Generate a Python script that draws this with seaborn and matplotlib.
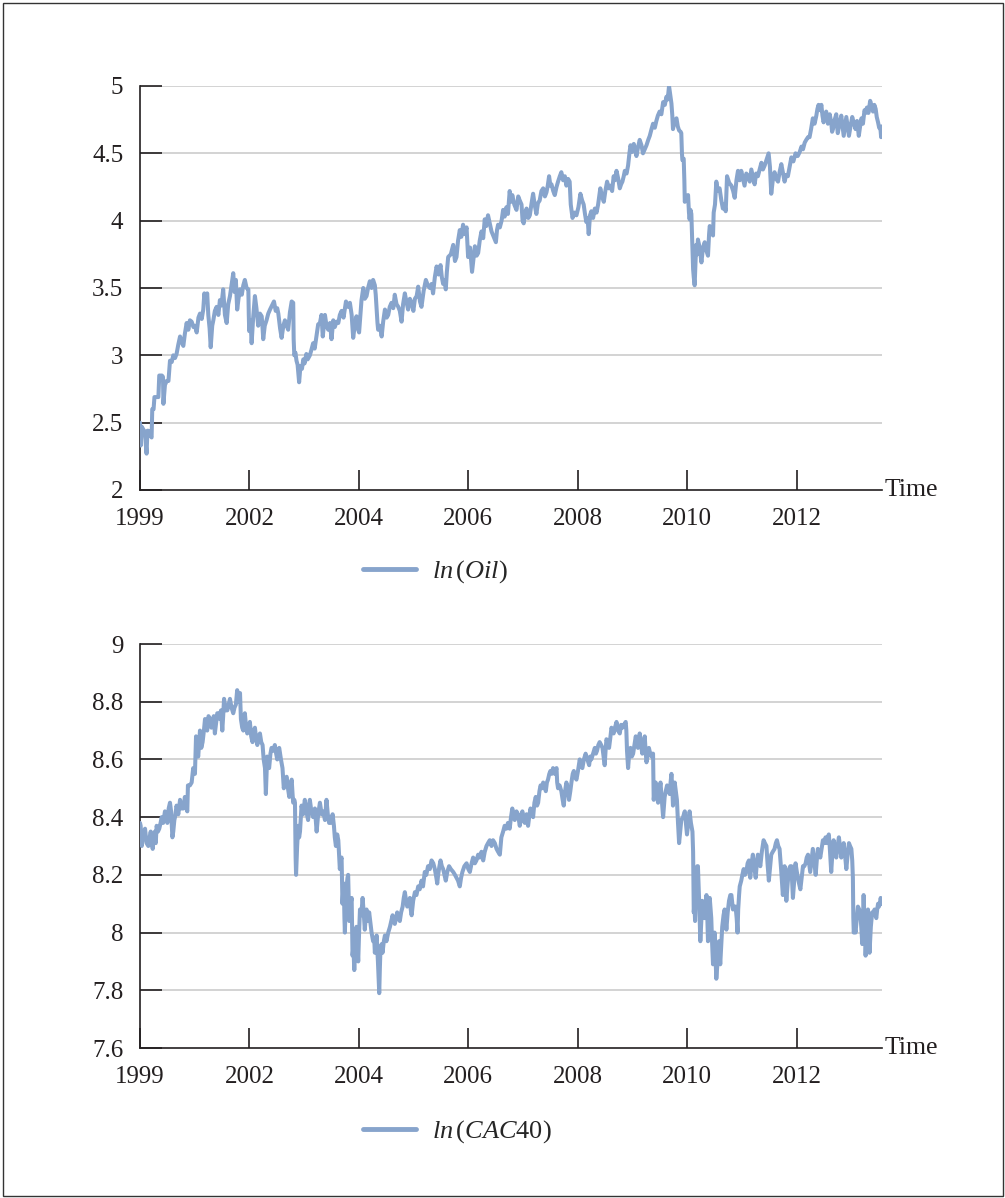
import numpy as np
import pandas as pd
import matplotlib
matplotlib.use("Agg")
import matplotlib.pyplot as plt
import seaborn as sns
from matplotlib.patches import Rectangle

oil_points = [
    (0, 2.50), (3, 2.33), (8, 2.47), (15, 2.45), (22, 2.43), (30, 2.27), (34, 2.44), (38, 2.44),
    (45, 2.41), (53, 2.39), (56, 2.60), (62, 2.60), (66, 2.69), (75, 2.69), (84, 2.69), (88, 2.85),
    (100, 2.85), (105, 2.84), (107, 2.64), (114, 2.78), (122, 2.81), (130, 2.81), (137, 2.96),
    (145, 2.95), (152, 3.00), (160, 2.98), (167, 3.01), (175, 3.08), (183, 3.14), (190, 3.10),
    (198, 3.07), (205, 3.16), (213, 3.24), (221, 3.19), (228, 3.26), (236, 3.25), (244, 3.21),
    (251, 3.22), (259, 3.17), (267, 3.28), (274, 3.31), (282, 3.27), (289, 3.34), (294, 3.46),
    (300, 3.40), (307, 3.46), (312, 3.30), (318, 3.20), (323, 3.06), (330, 3.22), (335, 3.26),
    (342, 3.33), (350, 3.36), (358, 3.30), (365, 3.41), (372, 3.37), (380, 3.49), (388, 3.30),
    (396, 3.24), (403, 3.38), (411, 3.44), (418, 3.52), (426, 3.61), (432, 3.47), (438, 3.56),
    (444, 3.34), (450, 3.42), (457, 3.49), (465, 3.45), (472, 3.52), (479, 3.56), (487, 3.50),
    (495, 3.49), (497, 3.30), (499, 3.18), (505, 3.26), (510, 3.09), (517, 3.28), (525, 3.44),
    (532, 3.35), (540, 3.22), (548, 3.31), (556, 3.29), (560, 3.20), (563, 3.12), (570, 3.22),
    (578, 3.26), (586, 3.31), (594, 3.34), (603, 3.37), (612, 3.40), (620, 3.33), (627, 3.35),
    (632, 3.31), (640, 3.20), (647, 3.13), (655, 3.22), (662, 3.26), (670, 3.22), (677, 3.19),
    (685, 3.32), (693, 3.40), (700, 3.39), (702, 3.12), (705, 3.00), (710, 3.02), (715, 2.96),
    (720, 2.93), (727, 2.80), (733, 2.92), (740, 2.90), (746, 2.97), (752, 2.94), (760, 3.01),
    (766, 2.97), (776, 3.00), (783, 3.04), (791, 3.09), (798, 3.05), (806, 3.14), (814, 3.23),
    (822, 3.24), (829, 3.30), (835, 3.14), (845, 3.30), (852, 3.22), (860, 3.19), (868, 3.24),
    (875, 3.12), (883, 3.26), (890, 3.21), (898, 3.25), (906, 3.24), (913, 3.30), (921, 3.33),
    (930, 3.28), (941, 3.40), (950, 3.36), (959, 3.39), (967, 3.30), (974, 3.13), (981, 3.22),
    (989, 3.29), (995, 3.20), (1001, 3.17), (1007, 3.30), (1012, 3.41), (1020, 3.50), (1027, 3.42),
    (1035, 3.44), (1042, 3.50), (1050, 3.55), (1058, 3.50), (1065, 3.56), (1073, 3.52), (1077, 3.45),
    (1081, 3.34), (1085, 3.24), (1088, 3.19), (1096, 3.22), (1104, 3.14), (1111, 3.25), (1119, 3.34),
    (1127, 3.28), (1134, 3.30), (1141, 3.36), (1149, 3.39), (1157, 3.35), (1164, 3.45), (1172, 3.38),
    (1180, 3.36), (1187, 3.33), (1195, 3.25), (1202, 3.38), (1210, 3.46), (1217, 3.40), (1225, 3.34),
    (1233, 3.42), (1241, 3.39), (1249, 3.33), (1256, 3.42), (1264, 3.44), (1271, 3.51), (1279, 3.40),
    (1286, 3.36), (1296, 3.48), (1306, 3.56), (1315, 3.52), (1324, 3.50), (1332, 3.53), (1339, 3.46),
    (1347, 3.58), (1355, 3.66), (1364, 3.60), (1373, 3.67), (1379, 3.58), (1385, 3.53), (1391, 3.56),
    (1397, 3.49), (1402, 3.62), (1408, 3.73), (1420, 3.75), (1431, 3.82), (1439, 3.70), (1446, 3.73),
    (1453, 3.85), (1461, 3.93), (1468, 3.88), (1476, 3.97), (1484, 3.90), (1492, 3.95), (1499, 3.73),
    (1508, 3.80), (1517, 3.62), (1524, 3.72), (1530, 3.81), (1538, 3.74), (1545, 3.76), (1552, 3.85),
    (1560, 3.92), (1568, 3.87), (1575, 4.01), (1582, 3.96), (1590, 4.04), (1598, 3.98), (1606, 3.92),
    (1616, 3.88), (1626, 3.84), (1631, 3.93), (1636, 3.97), (1644, 3.95), (1652, 4.00), (1659, 4.08),
    (1666, 4.03), (1674, 4.10), (1681, 4.05), (1689, 4.22), (1695, 4.14), (1701, 4.19), (1710, 4.12),
    (1720, 4.08), (1728, 4.18), (1735, 4.15), (1743, 4.12), (1748, 4.00), (1753, 3.98), (1760, 4.06),
    (1766, 4.09), (1774, 4.02), (1781, 4.04), (1789, 4.13), (1796, 4.20), (1803, 4.12), (1811, 4.05),
    (1818, 4.13), (1826, 4.15), (1834, 4.22), (1842, 4.24), (1850, 4.18), (1857, 4.21), (1863, 4.26),
    (1869, 4.33), (1875, 4.26), (1880, 4.27), (1888, 4.22), (1895, 4.19), (1903, 4.25), (1910, 4.29),
    (1918, 4.33), (1925, 4.36), (1933, 4.30), (1941, 4.33), (1948, 4.26), (1956, 4.31), (1963, 4.29),
    (1968, 4.12), (1976, 4.02), (1985, 4.06), (1994, 4.04), (2003, 4.10), (2012, 4.20), (2020, 4.15),
    (2027, 4.12), (2033, 4.05), (2039, 3.99), (2045, 4.02), (2050, 3.90), (2056, 4.04), (2062, 4.07),
    (2070, 4.02), (2078, 4.09), (2086, 4.06), (2093, 4.12), (2103, 4.24), (2111, 4.18), (2119, 4.14),
    (2126, 4.22), (2134, 4.29), (2142, 4.24), (2149, 4.26), (2157, 4.22), (2164, 4.33), (2170, 4.30),
    (2177, 4.37), (2185, 4.31), (2192, 4.24), (2198, 4.27), (2204, 4.29), (2210, 4.33), (2215, 4.37),
    (2223, 4.35), (2230, 4.41), (2236, 4.50), (2241, 4.56), (2248, 4.51), (2256, 4.57), (2262, 4.53),
    (2268, 4.48), (2276, 4.55), (2283, 4.60), (2291, 4.56), (2298, 4.50), (2306, 4.53), (2314, 4.56),
    (2322, 4.60), (2329, 4.63), (2337, 4.68), (2344, 4.72), (2352, 4.69), (2359, 4.74), (2366, 4.78),
    (2374, 4.81), (2382, 4.79), (2390, 4.88), (2398, 4.86), (2405, 4.92), (2411, 4.90), (2417, 5.00),
    (2423, 4.93), (2428, 4.87), (2432, 4.78), (2435, 4.68), (2443, 4.74), (2451, 4.76), (2457, 4.70),
    (2463, 4.67), (2470, 4.66), (2473, 4.65), (2476, 4.50), (2478, 4.45), (2484, 4.46), (2487, 4.30),
    (2489, 4.14), (2496, 4.18), (2504, 4.19), (2508, 4.06), (2511, 4.01), (2515, 4.08), (2519, 4.05),
    (2522, 3.90), (2524, 3.79), (2527, 3.64), (2530, 3.58), (2534, 3.52), (2538, 3.70), (2541, 3.82),
    (2545, 3.75), (2549, 3.86), (2557, 3.80), (2565, 3.69), (2572, 3.80), (2580, 3.84), (2587, 3.78),
    (2595, 3.74), (2600, 3.90), (2603, 3.96), (2610, 3.92), (2618, 3.89), (2621, 4.06), (2627, 4.12),
    (2633, 4.29), (2640, 4.22), (2648, 4.24), (2656, 4.15), (2663, 4.09), (2670, 4.12), (2676, 4.07),
    (2682, 4.33), (2692, 4.28), (2702, 4.26), (2710, 4.22), (2717, 4.17), (2725, 4.30), (2732, 4.37),
    (2740, 4.30), (2747, 4.37), (2755, 4.31), (2762, 4.26), (2770, 4.35), (2778, 4.33), (2786, 4.29),
    (2793, 4.38), (2800, 4.33), (2808, 4.27), (2815, 4.35), (2823, 4.33), (2831, 4.38), (2839, 4.43),
    (2846, 4.38), (2854, 4.41), (2862, 4.45), (2872, 4.50), (2878, 4.40), (2884, 4.20), (2891, 4.30),
    (2899, 4.36), (2907, 4.31), (2915, 4.29), (2922, 4.36), (2930, 4.42), (2937, 4.36), (2945, 4.29),
    (2952, 4.34), (2960, 4.33), (2968, 4.40), (2976, 4.47), (2985, 4.44), (2995, 4.50), (3005, 4.48),
    (3014, 4.51), (3022, 4.55), (3029, 4.53), (3037, 4.58), (3044, 4.60), (3052, 4.62), (3059, 4.62),
    (3066, 4.68), (3074, 4.76), (3082, 4.72), (3090, 4.78), (3095, 4.83), (3100, 4.86), (3107, 4.82),
    (3113, 4.86), (3118, 4.78), (3123, 4.73), (3129, 4.77), (3135, 4.81), (3143, 4.72), (3151, 4.79),
    (3158, 4.73), (3162, 4.66), (3166, 4.68), (3174, 4.75), (3181, 4.79), (3185, 4.70), (3188, 4.65),
    (3196, 4.72), (3204, 4.78), (3210, 4.70), (3215, 4.63), (3221, 4.70), (3227, 4.77), (3233, 4.70),
    (3239, 4.63), (3246, 4.70), (3254, 4.77), (3262, 4.72), (3269, 4.68), (3276, 4.74), (3284, 4.63),
    (3290, 4.70), (3296, 4.76), (3303, 4.72), (3310, 4.82), (3316, 4.80), (3321, 4.84), (3328, 4.80),
    (3336, 4.89), (3343, 4.85), (3349, 4.81), (3355, 4.86), (3361, 4.83), (3366, 4.77), (3372, 4.73),
    (3377, 4.69), (3383, 4.68), (3386, 4.62), (3388, 4.70), (3390, 4.64),
]

cac_points = [
    (0, 8.38), (3, 8.37), (8, 8.30), (14, 8.34), (23, 8.36), (30, 8.31), (38, 8.30), (44, 8.33),
    (49, 8.35), (54, 8.31), (58, 8.29), (63, 8.33), (68, 8.35), (72, 8.31), (76, 8.37), (82, 8.35),
    (88, 8.36), (94, 8.38), (99, 8.40), (106, 8.38), (114, 8.42), (120, 8.40), (125, 8.38), (131, 8.43),
    (137, 8.45), (142, 8.42), (148, 8.33), (152, 8.35), (157, 8.39), (160, 8.40), (167, 8.44), (175, 8.41),
    (183, 8.46), (190, 8.43), (198, 8.43), (205, 8.47), (210, 8.44), (216, 8.42), (219, 8.51), (228, 8.51),
    (236, 8.52), (243, 8.57), (251, 8.55), (256, 8.68), (261, 8.63), (266, 8.61), (274, 8.70), (280, 8.64),
    (286, 8.66), (292, 8.70), (297, 8.74), (302, 8.71), (307, 8.70), (313, 8.75), (320, 8.74), (326, 8.71),
    (332, 8.72), (337, 8.75), (342, 8.69), (348, 8.73), (353, 8.76), (359, 8.76), (365, 8.74), (370, 8.77),
    (376, 8.70), (380, 8.75), (384, 8.81), (392, 8.77), (399, 8.77), (405, 8.79), (411, 8.81), (418, 8.78),
    (426, 8.76), (432, 8.78), (438, 8.79), (444, 8.84), (450, 8.80), (457, 8.83), (461, 8.74), (467, 8.71),
    (472, 8.70), (479, 8.76), (484, 8.72), (490, 8.69), (496, 8.71), (502, 8.73), (508, 8.68), (514, 8.66),
    (520, 8.70), (525, 8.71), (531, 8.67), (536, 8.65), (542, 8.68), (548, 8.69), (554, 8.66), (560, 8.65),
    (565, 8.60), (571, 8.57), (575, 8.48), (581, 8.61), (586, 8.58), (590, 8.57), (596, 8.62), (601, 8.64),
    (609, 8.63), (616, 8.65), (622, 8.62), (627, 8.60), (632, 8.63), (636, 8.64), (644, 8.60), (651, 8.57),
    (657, 8.50), (663, 8.53), (670, 8.54), (676, 8.50), (682, 8.47), (688, 8.51), (693, 8.53), (697, 8.48),
    (700, 8.45), (705, 8.46), (708, 8.45), (711, 8.26), (713, 8.20), (718, 8.30), (723, 8.37), (727, 8.33),
    (731, 8.35), (735, 8.40), (738, 8.44), (745, 8.41), (753, 8.46), (760, 8.42), (768, 8.39), (772, 8.44),
    (776, 8.46), (783, 8.42), (791, 8.40), (799, 8.43), (807, 8.35), (814, 8.41), (822, 8.45), (830, 8.41),
    (837, 8.42), (845, 8.39), (852, 8.46), (858, 8.41), (864, 8.38), (871, 8.38), (880, 8.41), (886, 8.37),
    (890, 8.33), (895, 8.30), (901, 8.34), (906, 8.32), (910, 8.26), (913, 8.22), (917, 8.25), (921, 8.26),
    (925, 8.10), (928, 8.14), (931, 8.17), (934, 8.05), (936, 8.00), (940, 8.10), (944, 8.16), (948, 8.19),
    (951, 8.20), (956, 8.04), (962, 8.10), (967, 8.12), (971, 7.92), (975, 7.95), (979, 7.87), (984, 7.97),
    (989, 8.02), (993, 7.96), (997, 7.90), (1001, 8.00), (1005, 8.08), (1011, 8.06), (1017, 8.12),
    (1022, 8.07), (1027, 8.01), (1031, 8.05), (1035, 8.08), (1041, 8.04), (1047, 8.07), (1053, 8.03),
    (1058, 8.00), (1065, 7.97), (1070, 7.98), (1073, 7.93), (1077, 7.96), (1081, 7.99), (1087, 7.90),
    (1093, 7.79), (1096, 7.88), (1099, 7.95), (1104, 7.96), (1108, 7.93), (1114, 7.97), (1119, 7.99),
    (1126, 7.97), (1134, 8.00), (1142, 8.02), (1148, 8.04), (1154, 8.06), (1159, 8.04), (1164, 8.03),
    (1170, 8.05), (1175, 8.07), (1181, 8.05), (1187, 8.04), (1193, 8.07), (1200, 8.09), (1205, 8.12),
    (1210, 8.14), (1216, 8.11), (1221, 8.09), (1227, 8.10), (1233, 8.12), (1237, 8.08), (1241, 8.06),
    (1248, 8.11), (1256, 8.14), (1263, 8.13), (1271, 8.16), (1278, 8.15), (1286, 8.18), (1293, 8.16),
    (1301, 8.21), (1308, 8.20), (1316, 8.23), (1324, 8.22), (1332, 8.25), (1340, 8.24), (1347, 8.22),
    (1354, 8.19), (1358, 8.17), (1362, 8.20), (1368, 8.23), (1373, 8.25), (1379, 8.23), (1385, 8.22),
    (1391, 8.20), (1397, 8.18), (1404, 8.21), (1412, 8.23), (1420, 8.22), (1431, 8.21), (1439, 8.20),
    (1446, 8.19), (1453, 8.18), (1461, 8.16), (1467, 8.19), (1473, 8.21), (1482, 8.23), (1492, 8.24),
    (1500, 8.22), (1507, 8.21), (1515, 8.24), (1522, 8.26), (1530, 8.24), (1537, 8.25), (1545, 8.27),
    (1552, 8.26), (1560, 8.28), (1568, 8.25), (1575, 8.28), (1583, 8.30), (1590, 8.31), (1598, 8.32),
    (1606, 8.30), (1613, 8.32), (1621, 8.31), (1629, 8.29), (1636, 8.28), (1644, 8.27), (1651, 8.33),
    (1659, 8.35), (1666, 8.37), (1674, 8.36), (1681, 8.38), (1689, 8.36), (1695, 8.40), (1701, 8.43),
    (1707, 8.40), (1712, 8.39), (1720, 8.42), (1727, 8.41), (1735, 8.37), (1741, 8.40), (1747, 8.42),
    (1752, 8.39), (1758, 8.38), (1766, 8.41), (1773, 8.37), (1778, 8.40), (1784, 8.43), (1790, 8.41),
    (1796, 8.40), (1802, 8.45), (1808, 8.47), (1814, 8.44), (1819, 8.45), (1825, 8.49), (1830, 8.51),
    (1836, 8.50), (1842, 8.52), (1848, 8.51), (1854, 8.49), (1859, 8.52), (1864, 8.53), (1870, 8.55),
    (1875, 8.56), (1881, 8.55), (1887, 8.57), (1895, 8.55), (1903, 8.57), (1906, 8.52), (1910, 8.50),
    (1917, 8.51), (1925, 8.49), (1931, 8.46), (1936, 8.44), (1942, 8.49), (1948, 8.52), (1954, 8.50),
    (1960, 8.46), (1966, 8.49), (1971, 8.52), (1977, 8.55), (1982, 8.56), (1988, 8.54), (1994, 8.53),
    (2001, 8.56), (2009, 8.60), (2015, 8.58), (2021, 8.57), (2028, 8.60), (2036, 8.62), (2044, 8.60),
    (2052, 8.58), (2057, 8.61), (2062, 8.60), (2070, 8.62), (2078, 8.64), (2083, 8.62), (2088, 8.63),
    (2094, 8.65), (2100, 8.66), (2107, 8.65), (2113, 8.64), (2118, 8.61), (2123, 8.58), (2127, 8.63),
    (2131, 8.67), (2137, 8.66), (2143, 8.64), (2148, 8.67), (2154, 8.71), (2159, 8.70), (2164, 8.69),
    (2170, 8.71), (2177, 8.73), (2184, 8.70), (2192, 8.69), (2198, 8.72), (2204, 8.71), (2211, 8.72),
    (2219, 8.73), (2222, 8.70), (2225, 8.63), (2230, 8.57), (2235, 8.62), (2241, 8.64), (2247, 8.61),
    (2253, 8.62), (2259, 8.65), (2265, 8.68), (2270, 8.66), (2275, 8.64), (2279, 8.66), (2283, 8.69),
    (2289, 8.65), (2295, 8.62), (2300, 8.65), (2306, 8.68), (2310, 8.63), (2314, 8.59), (2320, 8.62),
    (2325, 8.64), (2331, 8.62), (2337, 8.61), (2341, 8.62), (2344, 8.62), (2347, 8.46), (2351, 8.49),
    (2356, 8.52), (2361, 8.48), (2367, 8.45), (2372, 8.49), (2378, 8.52), (2384, 8.46), (2390, 8.40),
    (2394, 8.44), (2397, 8.47), (2402, 8.49), (2408, 8.51), (2414, 8.50), (2420, 8.48), (2424, 8.52),
    (2428, 8.55), (2432, 8.50), (2435, 8.44), (2439, 8.48), (2443, 8.52), (2448, 8.49), (2453, 8.46),
    (2458, 8.38), (2463, 8.31), (2468, 8.35), (2473, 8.39), (2481, 8.40), (2489, 8.42), (2494, 8.38),
    (2499, 8.34), (2505, 8.38), (2511, 8.42), (2517, 8.38), (2524, 8.35), (2527, 8.28), (2530, 8.07),
    (2533, 8.10), (2536, 8.04), (2539, 8.14), (2542, 8.22), (2546, 8.23), (2549, 8.23), (2555, 8.10),
    (2560, 7.97), (2565, 8.05), (2569, 8.11), (2575, 8.08), (2580, 8.05), (2585, 8.09), (2588, 8.13),
    (2592, 8.05), (2595, 7.97), (2599, 8.05), (2603, 8.12), (2607, 8.08), (2610, 8.05), (2614, 7.96),
    (2618, 7.89), (2622, 7.95), (2625, 8.00), (2629, 7.92), (2633, 7.84), (2639, 7.90), (2645, 7.97),
    (2648, 7.93), (2651, 7.89), (2656, 7.96), (2660, 8.02), (2666, 8.06), (2671, 8.08), (2675, 8.05),
    (2679, 8.01), (2685, 8.07), (2691, 8.11), (2697, 8.13), (2702, 8.13), (2706, 8.10), (2709, 8.08),
    (2715, 8.09), (2721, 8.09), (2726, 8.05), (2730, 8.00), (2733, 8.08), (2737, 8.13), (2740, 8.16),
    (2747, 8.18), (2752, 8.20), (2758, 8.22), (2764, 8.20), (2770, 8.21), (2776, 8.24), (2782, 8.25),
    (2785, 8.22), (2788, 8.19), (2794, 8.24), (2800, 8.27), (2806, 8.23), (2813, 8.19), (2818, 8.24),
    (2823, 8.27), (2828, 8.25), (2834, 8.23), (2841, 8.28), (2849, 8.32), (2855, 8.31), (2862, 8.30),
    (2867, 8.24), (2873, 8.18), (2879, 8.23), (2884, 8.27), (2891, 8.28), (2899, 8.29), (2905, 8.31),
    (2910, 8.32), (2916, 8.30), (2922, 8.29), (2929, 8.22), (2937, 8.13), (2941, 8.18), (2945, 8.23),
    (2949, 8.17), (2953, 8.11), (2959, 8.17), (2965, 8.22), (2971, 8.23), (2976, 8.23), (2980, 8.17),
    (2983, 8.12), (2989, 8.18), (2995, 8.24), (3001, 8.21), (3006, 8.19), (3011, 8.17), (3017, 8.15),
    (3023, 8.19), (3029, 8.23), (3035, 8.23), (3041, 8.24), (3046, 8.26), (3052, 8.27), (3057, 8.24),
    (3062, 8.21), (3068, 8.25), (3074, 8.29), (3080, 8.25), (3087, 8.20), (3092, 8.25), (3097, 8.29),
    (3102, 8.28), (3108, 8.26), (3114, 8.29), (3120, 8.32), (3126, 8.31), (3132, 8.33), (3138, 8.31),
    (3143, 8.33), (3147, 8.34), (3151, 8.30), (3155, 8.25), (3158, 8.21), (3163, 8.27), (3169, 8.32),
    (3175, 8.29), (3181, 8.26), (3187, 8.30), (3193, 8.33), (3198, 8.30), (3204, 8.26), (3209, 8.29),
    (3215, 8.31), (3221, 8.27), (3227, 8.22), (3233, 8.27), (3239, 8.31), (3244, 8.30), (3250, 8.29),
    (3254, 8.25), (3257, 8.19), (3259, 8.05), (3261, 8.00), (3265, 8.02), (3269, 8.00), (3275, 8.05),
    (3280, 8.09), (3286, 8.08), (3291, 8.07), (3296, 8.01), (3300, 7.96), (3303, 8.05), (3306, 8.13),
    (3311, 8.02), (3315, 7.92), (3320, 8.00), (3326, 8.08), (3330, 8.01), (3333, 7.93), (3339, 8.02),
    (3345, 8.07), (3351, 8.07), (3356, 8.08), (3360, 8.06), (3364, 8.05), (3368, 8.08), (3372, 8.10),
    (3376, 8.09), (3380, 8.10), (3384, 8.12), (3388, 8.10),
]

x_ticks = [0, 500, 1000, 1500, 2000, 2500, 3000]
x_labels = ["1999", "2002", "2004", "2006", "2008", "2010", "2012"]

oil_ticks = [2, 2.5, 3, 3.5, 4, 4.5, 5]
oil_labels = ["2", "2.5", "3", "3.5", "4", "4.5", "5"]
cac_ticks = [7.6, 7.8, 8, 8.2, 8.4, 8.6, 8.8, 9]
cac_labels = ["7.6", "7.8", "8", "8.2", "8.4", "8.6", "8.8", "9"]

oil_df = pd.DataFrame(oil_points, columns=["t", "value"])
cac_df = pd.DataFrame(cac_points, columns=["t", "value"])

sns.set_theme(style="white")
plt.rcParams["font.family"] = ["Liberation Serif", "DejaVu Serif"]
plt.rcParams["mathtext.fontset"] = "custom"
plt.rcParams["mathtext.rm"] = "Liberation Serif"
plt.rcParams["mathtext.it"] = "Liberation Serif:italic"

line_col = "#87a4cc"
ink = "#231f20"
grid_col = "#c8c8c8"

fig = plt.figure(figsize=(10.05, 11.98), dpi=100)
ax_top = fig.add_axes([140 / 1005, 1 - 490 / 1198, 742 / 1005, 404 / 1198])
ax_bot = fig.add_axes([140 / 1005, 1 - 1048 / 1198, 742 / 1005, 404 / 1198])

panels = [
    (ax_top, oil_df, oil_ticks, oil_labels, r"$ln\,(Oil)$", 572),
    (ax_bot, cac_df, cac_ticks, cac_labels, r"$ln\,(CAC40)$", 1132),
]

for ax, df, yt, yl, name, leg_y in panels:
    for v in yt[1:]:
        ax.axhline(v, color=grid_col, lw=1.1, zorder=0)
    sns.lineplot(data=df, x="t", y="value", ax=ax, color=line_col, lw=2.9,
                 estimator=None, sort=False, label=name, zorder=3)
    ax.set_xlim(0, 3390)
    ax.set_ylim(yt[0], yt[-1])
    ax.set_xticks(x_ticks)
    ax.set_xticklabels(x_labels)
    ax.set_yticks(yt)
    ax.set_yticklabels(yl)
    ax.set_xlabel("")
    ax.set_ylabel("")
    for s in ["top", "right"]:
        ax.spines[s].set_visible(False)
    for s in ["left", "bottom"]:
        ax.spines[s].set_color(ink)
        ax.spines[s].set_linewidth(1.2)
    ax.tick_params(axis="y", direction="in", length=16, width=1.2, color=ink,
                   labelsize=18, labelcolor=ink, pad=12, left=True)
    ax.tick_params(axis="x", direction="in", length=14.5, width=1.2, color=ink,
                   labelsize=18, labelcolor=ink, pad=13, bottom=True)
    ax.text(1.004, 0, "Time", transform=ax.transAxes, ha="left", va="center",
            fontsize=18.5, color=ink)
    ax.legend(loc="center left", bbox_to_anchor=(363 / 1005, 1 - leg_y / 1198),
              bbox_transform=fig.transFigure, frameon=False, fontsize=19,
              handlelength=2.0, handletextpad=0.6, borderpad=0, borderaxespad=0)
    ax.get_legend().get_lines()[0].set_linewidth(3.5)
    ax.set_facecolor("white")

fig.patches.append(Rectangle((2.5 / 1005, 2.5 / 1198), 1000 / 1005, 1193 / 1198,
                             transform=fig.transFigure, fill=False, ec="#333333", lw=1.0))

fig.savefig("out.png", dpi=100, facecolor="white")
